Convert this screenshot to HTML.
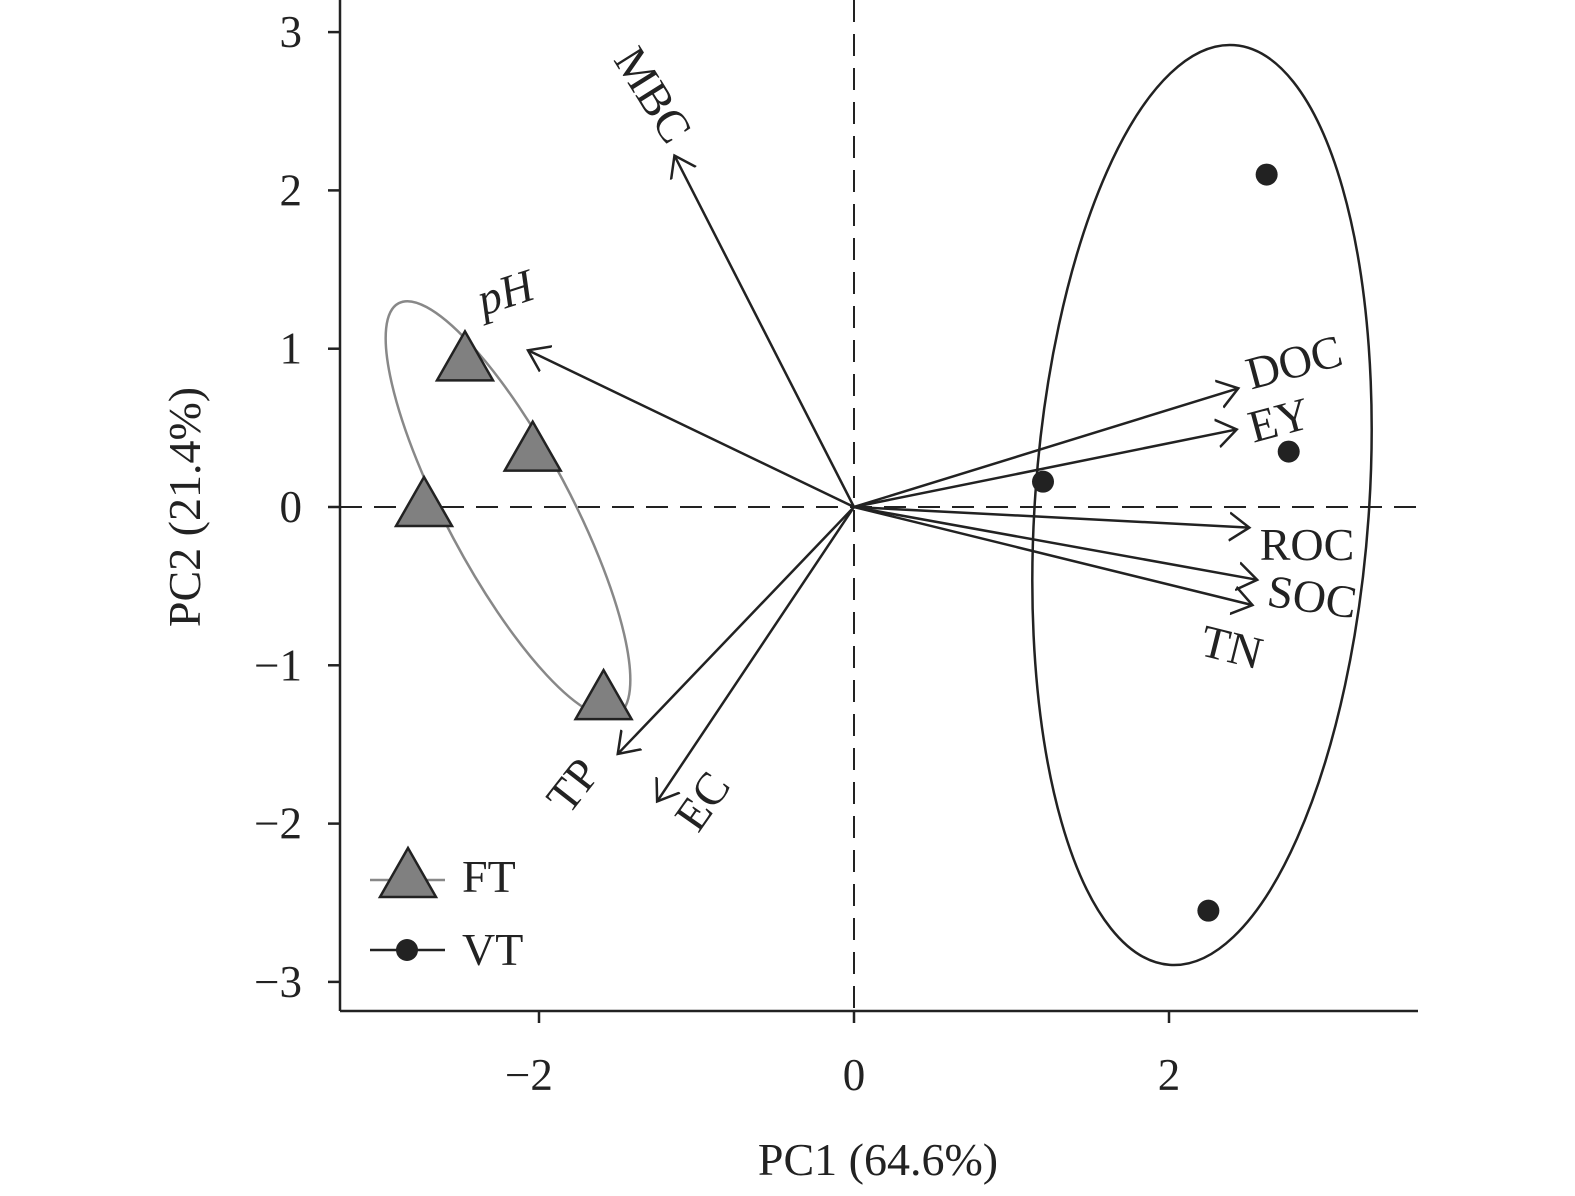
<!DOCTYPE html>
<html><head><meta charset="utf-8"><style>
body{margin:0;background:#fff}
svg{display:block}
text{font-family:"Liberation Serif",serif;fill:#222}
</style></head><body>
<svg width="1575" height="1196" viewBox="0 0 1575 1196">
<defs><marker id="ah" markerWidth="40" markerHeight="40" refX="20" refY="20" orient="auto" markerUnits="userSpaceOnUse"><path d="M0,6 L20,20 L0,34" fill="none" stroke="#222" stroke-width="2.5"/></marker></defs>
<g id="root"></g>
</svg>
<script>
const ftX=[-2.47,-2.04,-2.73,-1.59];
const ftY=[0.92,0.35,0.0,-1.22];
const vtX=[2.62,2.76,1.20,2.25];
const vtY=[2.10,0.35,0.16,-2.55];
const varNames=["MBC","pH","DOC","EY","ROC","SOC","TN","TP","EC"];
const varX=[-1.14,-2.07,2.44,2.43,2.51,2.56,2.53,-1.50,-1.25];
const varY=[2.22,0.99,0.75,0.49,-0.13,-0.46,-0.62,-1.56,-1.86];
const xTicks=[-2,0,2];
const yTicks=[3,2,1,0,-1,-2,-3];
const X=v=>854+v*157.5, Y=v=>507-v*158.3;
const NS="http://www.w3.org/2000/svg";
const root=document.getElementById('root');
function mk(t,a,txt){const e=document.createElementNS(NS,t);for(const k in a)e.setAttribute(k,a[k]);if(txt!==undefined)e.textContent=txt;root.appendChild(e);return e;}
let e;
e=mk('line',{x1:340,y1:0,x2:340,y2:1011,stroke:'#222','stroke-width':2.5});


e=mk('line',{x1:340,y1:1011,x2:1418,y2:1011,stroke:'#222','stroke-width':2.5});


e=mk('line',{x1:340,y1:Y(0),x2:1418,y2:Y(0),stroke:'#222','stroke-width':2,'stroke-dasharray':'22 12'});


e=mk('line',{x1:X(0),y1:0,x2:X(0),y2:1011,stroke:'#222','stroke-width':2,'stroke-dasharray':'22 12'});


yTicks.forEach(t=>{
 e=mk('line',{x1:328,y1:Y(t),x2:340,y2:Y(t),stroke:'#222','stroke-width':2.5});
 
 
 e=mk('text',{x:302,y:Y(t)+15,'font-size':45,'text-anchor':'end'},t<0?'\u2212'+(-t):String(t));
 
 
});
xTicks.forEach(t=>{
 e=mk('line',{x1:X(t),y1:1011,x2:X(t),y2:1023,stroke:'#222','stroke-width':2.5});
 
 
 e=mk('text',{x:X(t)-(t<0?10:0),y:1090,'font-size':45,'text-anchor':'middle'},t<0?'\u2212'+(-t):String(t));
 
 
});
e=mk('text',{x:878,y:1175,'font-size':46,'text-anchor':'middle'},'PC1 (64.6%)');


e=mk('text',{x:0,y:0,'font-size':46,'text-anchor':'middle',transform:'translate(200,507) rotate(-90)'},'PC2 (21.4%)');


e=mk('ellipse',{cx:0,cy:0,rx:233,ry:62,fill:'none',stroke:'#888','stroke-width':2.5,transform:'translate(508,509) rotate(62)'});


e=mk('ellipse',{cx:0,cy:0,rx:167,ry:461,fill:'none',stroke:'#222','stroke-width':2.5,transform:'translate(1202,505) rotate(4)'});


const lab={MBC:[640,88,58],pH:[510,292,-18],DOC:[1298,362,-15],EY:[1283,420,-15],ROC:[1307,545,0],SOC:[1310,597,8],TN:[1228,647,14],TP:[585,780,-52],EC:[715,795,-55]};
varNames.forEach((n,i)=>{
 e=mk('line',{x1:X(0),y1:Y(0),x2:X(varX[i]),y2:Y(varY[i]),stroke:'#222','stroke-width':2.5,'marker-end':'url(#ah)'});
 
 
 const l=lab[n];
 e=mk('text',{x:0,y:0,'font-size':46,'text-anchor':'middle',transform:`translate(${l[0]},${l[1]+15}) rotate(${l[2]})`,'font-style':n==='pH'?'italic':'normal'},n);
 
 
});
function tri(cx,cy){return `${cx},${cy-30} ${cx-28},${cy+19} ${cx+28},${cy+19}`;}
ftX.forEach((v,i)=>{
 e=mk('polygon',{points:tri(X(v),Y(ftY[i])),fill:'#808080',stroke:'#222','stroke-width':2.5});
 
 
});
vtX.forEach((v,i)=>{
 e=mk('circle',{cx:X(v),cy:Y(vtY[i]),r:11,fill:'#222'});
 
 
});
e=mk('line',{x1:370,y1:880,x2:445,y2:880,stroke:'#888','stroke-width':2.5});


e=mk('polygon',{points:tri(408,878),fill:'#808080',stroke:'#222','stroke-width':2.5});


e=mk('text',{x:462,y:892,'font-size':46},'FT');


e=mk('line',{x1:370,y1:950,x2:445,y2:950,stroke:'#222','stroke-width':2.5});


e=mk('circle',{cx:407,cy:950,r:11,fill:'#222'});


e=mk('text',{x:462,y:965,'font-size':46},'VT');


</script>
</body></html>
